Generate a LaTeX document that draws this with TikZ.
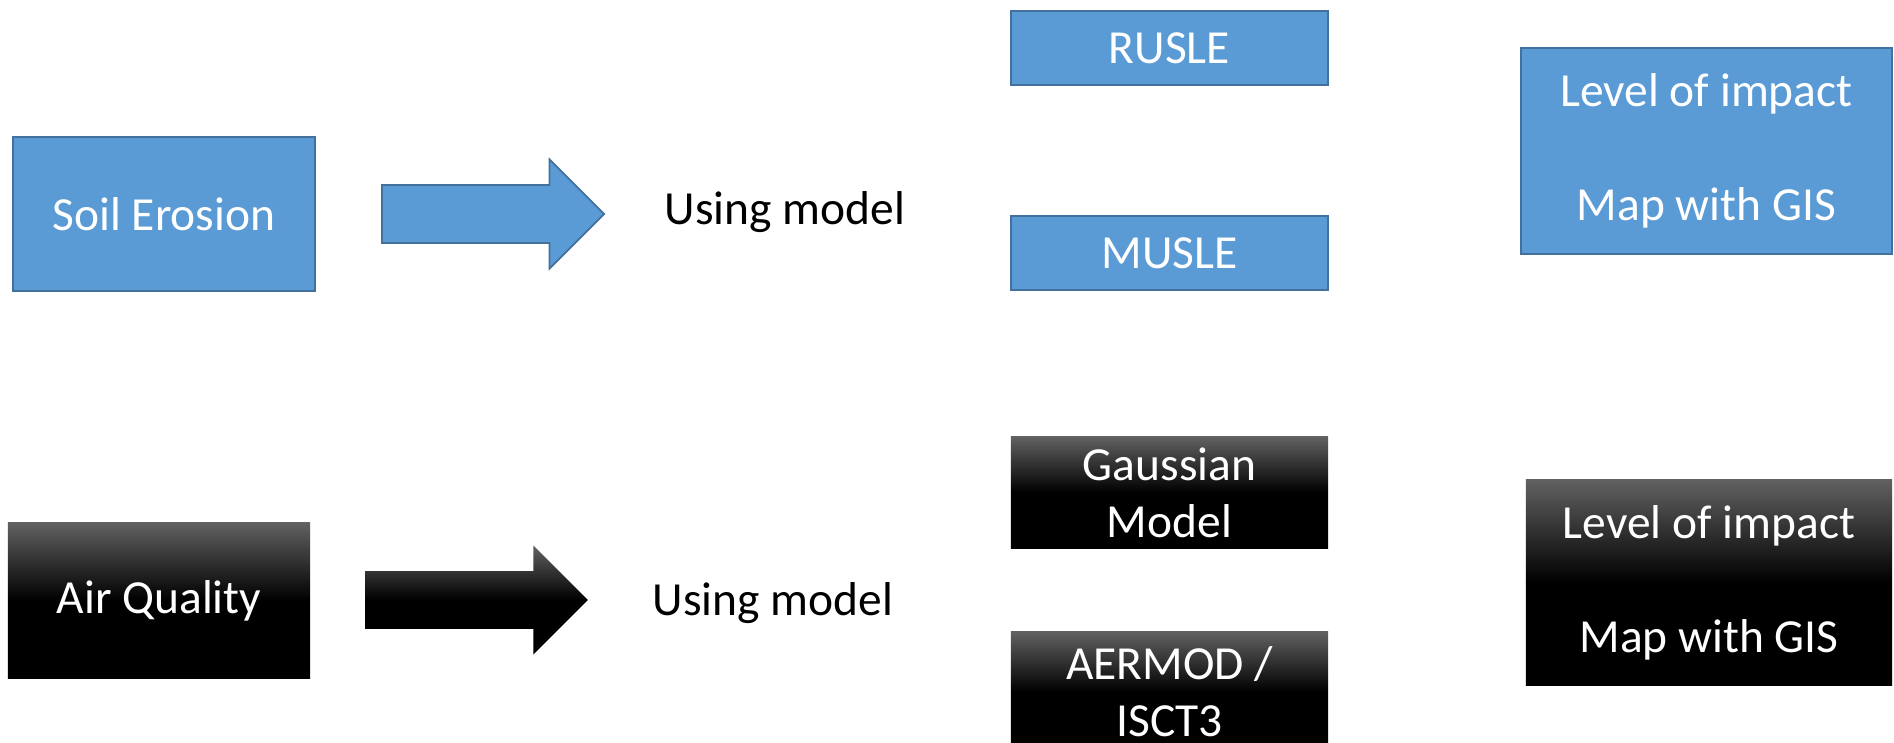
\documentclass[tikz,border=0pt]{standalone}
\usepackage{fontspec}
\setmainfont{Carlito}
\definecolor{boxblue}{RGB}{91, 155, 213}
\definecolor{edgeblue}{RGB}{65, 113, 156}
\usetikzlibrary{shapes.arrows, positioning}

\begin{document}
\begin{tikzpicture}[x=0.01cm, y=-0.01cm,
  every node/.style={font=\fontsize{13.5pt}{16.2pt}\selectfont, inner sep=0pt, align=center},
  bluebox/.style={draw=edgeblue, line width=0.5pt, fill=boxblue, text=white},
  darkbox/.style={top color=black!62, bottom color=black, middle color=black, text=white},
  blockarrow/.style={single arrow, minimum height=2.22cm, minimum width=1.09cm,
    inner xsep=0pt, inner ysep=0.275cm, anchor=tail,
    single arrow head extend=0.25cm, single arrow head indent=0pt},
]
\clip (0,0) rectangle (1894,742);

% Soil erosion row
\node[bluebox, minimum width=3.02cm, minimum height=1.54cm] (soil) at (164,214) {Soil Erosion};
\node[blockarrow, bluebox] (arrowS) at (381,214) {};
\node (usingS) at (785,212) {Using model};

\node[bluebox, minimum width=3.17cm, minimum height=0.74cm] (rusle) at (1169.5,48) {RUSLE};
\node[bluebox, minimum width=3.17cm, minimum height=0.74cm] (musle) at (1169.5,253) {MUSLE};

\node[bluebox, minimum width=3.71cm, minimum height=2.06cm] (levelS) at (1706.5,151)
{Level of impact\\[0.57cm]Map with GIS};

% Air quality row
\node[darkbox, minimum width=3.02cm, minimum height=1.55cm] (air) at (159,600.5) {Air Quality};
\node[blockarrow, darkbox] (arrowA) at (365,600) {};
\node (usingA) at (773,603) {Using model};

\node[darkbox, minimum width=3.17cm, minimum height=1.11cm] (gauss) at (1169.5,492.5)
{Gaussian\\Model};
\node[darkbox, minimum width=3.17cm, minimum height=1.20cm] (aermod) at (1169.5,692)
{AERMOD /\\ISCT3};

\node[darkbox, minimum width=3.66cm, minimum height=2.05cm] (levelA) at (1709,582.5)
{Level of impact\\[0.57cm]Map with GIS};
\end{tikzpicture}
\end{document}
